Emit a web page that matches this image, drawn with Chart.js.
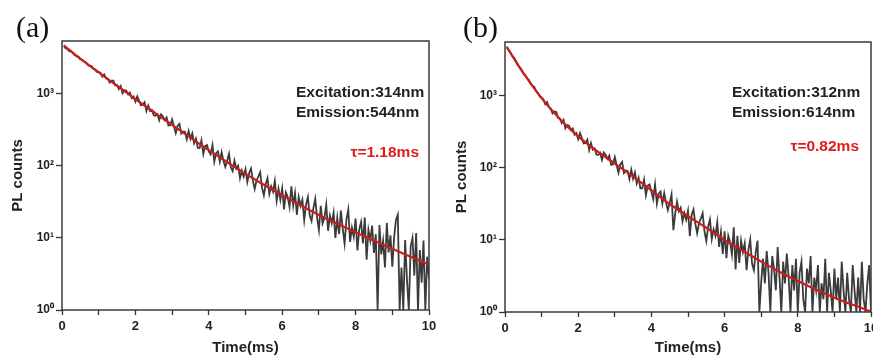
<!DOCTYPE html>
<html>
<head>
<meta charset="utf-8">
<script src="https://cdn.jsdelivr.net/npm/chart.js@4.4.1/dist/chart.umd.min.js"></script>
<style>
  body { margin: 0; background: #fff; }
  #wrap { position: relative; width: 873px; height: 357px; overflow: hidden; }
  canvas { position: absolute; top: 0; }
  #chartA { left: 0; }
  #chartB { left: 436px; }
</style>
</head>
<body>
<div id="wrap">
  <canvas id="chartA" width="436" height="357"></canvas>
  <canvas id="chartB" width="437" height="357"></canvas>
</div>
<script>
const decayA = [
  4634, 4325, 4188, 3908, 3936, 3690, 3459, 3350, 3281, 3020,
  2992, 2825, 2767, 2547, 2460, 2455, 2244, 2183, 2032, 2028,
  1957, 1740, 1871, 1654, 1613, 1442, 1532, 1529, 1321, 1318,
  1171, 1287, 1024, 1126, 1114, 993, 1048, 883, 925, 785,
  925, 808, 699, 706, 767, 580, 692, 580, 598, 507,
  500, 524, 432, 521, 487, 433, 472, 365, 368, 444,
  357, 286, 360, 384, 282, 301, 298, 235, 305, 237,
  284, 207, 240, 178, 177, 228, 147, 189, 195, 160,
  145, 195, 115, 151, 160, 115, 155, 118, 97, 118,
  148, 96, 85, 119, 92, 101, 68, 86, 71, 90,
  60, 80, 92, 63, 48, 63, 71, 82, 50, 39,
  56, 68, 41, 52, 44, 62, 33, 48, 34, 49,
  25, 43, 37, 27, 52, 28, 42, 21, 37, 28,
  34, 17.7, 29, 37, 20.5, 17.3, 26, 35, 19.4, 12.9,
  28, 16, 19, 29, 12.6, 20.5, 16, 22.5, 10, 19,
  11.4, 24, 13.4, 8.4, 18, 24.8, 8.8, 13.9, 10.4, 18.6,
  6.7, 13.3, 16.7, 8.4, 19.3, 5.0, 12.9, 9.2, 14.9, 6.2,
  11.3, 1, 15.1, 5.9, 9.1, 3.9, 16.2, 6.3, 10.9, 4.0,
  10.2, 17.8, 21, 1, 3.9, 1, 9.4, 2.6, 1, 7.6,
  10, 3.0, 11.7, 1, 6.8, 2.4, 9.2, 1, 5.5, 2.7
];
const decayB = [
  4853, 4325, 3996, 3565, 3385, 3037, 2720, 2502, 2333, 2040,
  1954, 1774, 1682, 1481, 1381, 1339, 1169, 1100, 981, 952,
  897, 767, 824, 700, 668, 575, 610, 598, 494, 485,
  421, 466, 356, 394, 387, 337, 356, 291, 305, 251,
  306, 261, 219, 223, 248, 177, 221, 179, 187, 153,
  152, 162, 130, 164, 152, 134, 149, 111, 113, 142,
  110, 86, 112, 121, 85, 92, 91, 70, 95, 71,
  87, 61, 73, 52, 52, 69, 42, 57, 59, 47,
  37, 59, 32, 44, 47, 32, 45, 33, 26, 33,
  43, 13.7, 23, 34, 25, 28, 18.2, 23.7, 19.1, 25.5,
  11.3, 22.4, 26.6, 16.9, 12.4, 17.1, 19.8, 23.5, 13.2, 9.7,
  15.2, 19.3, 10.3, 14, 11.4, 17.7, 8.0, 12.9, 6.4, 13.2,
  5.6, 11.5, 9.4, 6.3, 15, 3.9, 11.4, 4.8, 9.8, 6.8,
  9.0, 3.8, 7.3, 10.2, 4.7, 3.8, 6.7, 9.8, 1, 2.6,
  5.5, 2.5, 7.0, 3.5, 1, 6.0, 4.0, 2.0, 8.0, 3.0,
  1, 5.0, 2.5, 6.5, 3.0, 1, 4.5, 2.0, 5.5, 1,
  3.5, 5.0, 1.5, 1, 4.0, 2.5, 6.0, 1, 3.0, 2.0,
  4.5, 1, 2.5, 1.5, 5.5, 1, 3.5, 2.0, 1, 4.0,
  1.5, 3.0, 1, 5.0, 2.0, 1, 3.5, 1.5, 1, 4.5,
  2.0, 1, 3.0, 1, 5.0, 1.5, 1, 2.5, 4.5, 1
];

// fitted curves (red), read at these times
const fitTime = [0.05, 0.5, 1, 1.5, 2, 2.5, 3, 3.5, 4, 4.5, 5, 5.5, 6, 6.5, 7, 7.5, 8, 8.5, 9, 9.5, 10];
const fitA = [4750, 3090, 1995, 1303, 851, 562, 372, 248, 166, 113.5, 77.6, 55, 38.9, 28.5, 20.9, 15.8, 12.0, 9.2, 7.08, 5.5, 4.27];
const fitB = [4786, 2089, 933, 479, 275, 174, 115, 75.9, 49, 31.6, 21.4, 14.8, 10.0, 7.08, 5.01, 3.63, 2.69, 2.04, 1.58, 1.26, 1.02];

const yTicks = [1, 10, 100, 1000];
const yTickLabels = ['10\u2070', '10\u00b9', '10\u00b2', '10\u00b3'];
const xLabelsShown = [0, 2, 4, 6, 8, 10];

const decayTime = decayA.map((v, i) => +((i + 1) * 0.05).toFixed(2));

const FONT = 'Liberation Sans, Arial, Helvetica, sans-serif';

// draws the frame and the free text of each panel
const panelText = {
  id: 'panelText',
  afterDraw(chart, args, opts) {
    const ctx = chart.ctx;
    const a = chart.chartArea;
    ctx.save();
    ctx.strokeStyle = '#3a3a3a';
    ctx.lineWidth = 1.5;
    ctx.strokeRect(a.left, a.top, a.right - a.left, a.bottom - a.top);
    (opts.items || []).forEach(t => {
      ctx.font = t.font;
      ctx.fillStyle = t.color || '#222';
      ctx.textAlign = t.align || 'left';
      ctx.textBaseline = 'middle';
      ctx.fillText(t.text, t.x, t.y);
    });
    ctx.restore();
  }
};

function makePanel(id, decay, fit, cfg) {
  const ctx = document.getElementById(id).getContext('2d');
  return new Chart(ctx, {
    type: 'line',
    data: {
      datasets: [
        {
          data: fitTime.map((t, i) => ({x: t, y: fit[i]})),
          borderColor: '#cc1d1d', borderWidth: 2.2, pointRadius: 0,
          cubicInterpolationMode: 'monotone', order: 0
        },
        {
          data: decayTime.map((t, i) => ({x: t, y: decay[i]})),
          borderColor: '#3b3b3b', borderWidth: 1.8, pointRadius: 0,
          tension: 0, order: 1
        }
      ]
    },
    options: {
      responsive: false,
      animation: false,
      layout: {padding: cfg.padding},
      plugins: {
        legend: {display: false},
        tooltip: {enabled: false},
        panelText: {items: cfg.text}
      },
      scales: {
        x: {
          type: 'linear', min: 0, max: 10,
          afterFit: s => { s.height = cfg.xHeight; s.paddingLeft = 0; s.paddingRight = 0; },
          afterBuildTicks: s => { s.ticks = [0,1,2,3,4,5,6,7,8,9,10].map(v => ({value: v})); },
          border: {display: false},
          grid: {drawOnChartArea: false, drawTicks: true, tickLength: 5, tickColor: '#333', tickWidth: 1.3},
          ticks: {
            padding: 4, color: '#222', maxRotation: 0,
            font: {family: FONT, size: 13, weight: 'bold'},
            callback: v => xLabelsShown.includes(v) ? String(v) : ''
          },
          title: {display: true, text: 'Time(ms)', color: '#222', padding: {top: 2, bottom: 0},
                  font: {family: FONT, size: 15, weight: 'bold'}}
        },
        y: {
          type: 'logarithmic', min: 1, max: cfg.yMax,
          afterFit: s => { s.width = cfg.yWidth; s.paddingTop = 0; s.paddingBottom = 0; },
          afterBuildTicks: s => { s.ticks = yTicks.map(v => ({value: v})); },
          border: {display: false},
          grid: {drawOnChartArea: false, drawTicks: true, tickLength: 6, tickColor: '#333', tickWidth: 1.3},
          ticks: {
            padding: 2, color: '#222',
            font: {family: FONT, size: 12, weight: 'bold'},
            callback: v => yTickLabels[yTicks.indexOf(v)] || ''
          },
          title: {display: true, text: 'PL counts', color: '#222', padding: {top: cfg.yTitlePad, bottom: 0},
                  font: {family: FONT, size: 15, weight: 'bold'}}
        }
      }
    },
    plugins: [panelText]
  });
}

const bold15 = 'bold 15.5px ' + FONT;
const serif = '30px Liberation Serif, Times New Roman, serif';

makePanel('chartA', decayA, fitA, {
  padding: {left: 0, right: 7, top: 41, bottom: 0},
  xHeight: 47, yWidth: 62, yMax: 5445, yTitlePad: 9,
  text: [
    {text: '(a)', x: 16, y: 29, font: serif, color: '#111'},
    {text: 'Excitation:314nm', x: 296, y: 93, font: bold15},
    {text: 'Emission:544nm', x: 296, y: 113, font: bold15},
    {text: '\u03c4=1.18ms', x: 419, y: 153, font: bold15, color: '#e01b1b', align: 'right'}
  ]
});

makePanel('chartB', decayB, fitB, {
  padding: {left: 0, right: 2, top: 42, bottom: 0},
  xHeight: 45, yWidth: 69, yMax: 5623, yTitlePad: 17,
  text: [
    {text: '(b)', x: 27, y: 29, font: serif, color: '#111'},
    {text: 'Excitation:312nm', x: 296, y: 93, font: bold15},
    {text: 'Emission:614nm', x: 296, y: 113, font: bold15},
    {text: '\u03c4=0.82ms', x: 423, y: 147, font: bold15, color: '#e01b1b', align: 'right'}
  ]
});
</script>
</body>
</html>
